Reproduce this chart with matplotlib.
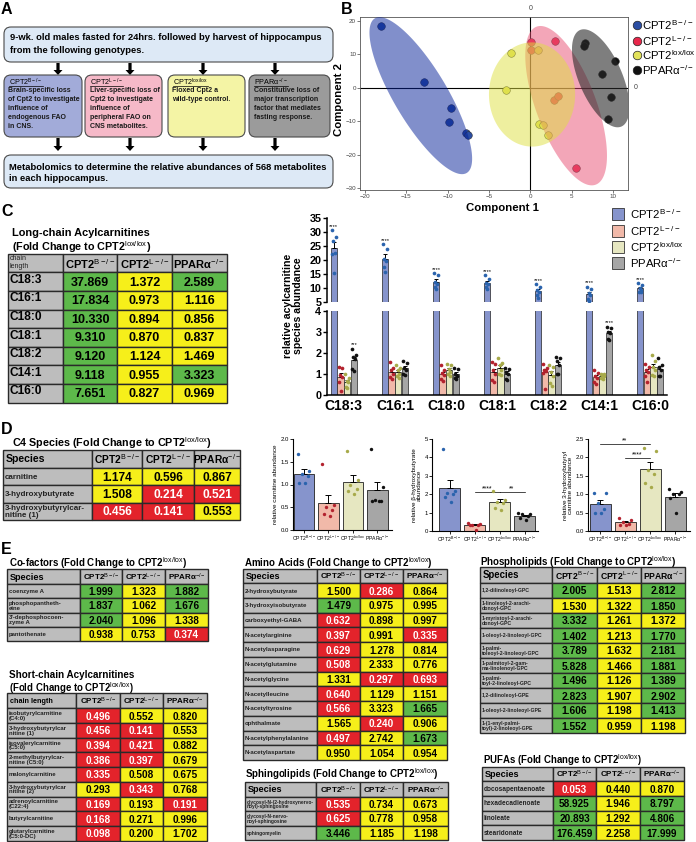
import matplotlib

matplotlib.use("Agg")

import matplotlib.pyplot as plt
import matplotlib.transforms as mtrans
import numpy as np
from matplotlib.patches import FancyArrow, FancyBboxPatch, Polygon, Rectangle

W, H = 696, 842

plt.rcParams["font.family"] = ["Liberation Sans", "DejaVu Sans"]
plt.rcParams["mathtext.fontset"] = "custom"
plt.rcParams["mathtext.rm"] = "Liberation Sans"
plt.rcParams["mathtext.it"] = "Liberation Sans:italic"
plt.rcParams["mathtext.bf"] = "Liberation Sans:bold"

# ---------------- data ----------------
GENO_BASE = ["CPT2", "CPT2", "CPT2", "PPARα"]
GENO_SUP = ["B-/-", "L-/-", "lox/lox", "-/-"]

# panel A text
A_TOP = ["9-wk. old males fasted for 24hrs. followed by harvest of hippocampus",
         "from the following genotypes."]
A_BOXES = [["Brain-specific loss", "of Cpt2 to investigate", "influence of",
            "endogenous FAO", "in CNS."],
           ["Liver-specific loss of", "Cpt2 to investigate", "influence of",
            "peripheral FAO on", "CNS metabolites."],
           ["Floxed Cpt2 a", "wild-type control."],
           ["Constitutive loss of", "major transcription", "factor that mediates",
            "fasting response."]]
A_BOTTOM = ["Metabolomics to determine the relative abundances of 568 metabolites",
            "in each hippocampus."]

# panel B, sPLS-DA component scores
PCA_X = [[-18.1, -12.9, -9.6, -9.8, -7.8, -7.5],
         [0.1, 3.0, 5.5, 0.1, 2.8, 3.3],
         [-2.3, -3.0, 0.9, 1.1, 1.5, 2.1],
         [6.6, 6.5, 10.2, 8.6, 9.8, 9.4]]
PCA_Y = [[18.6, 1.6, -5.9, -10.3, -13.4, -14.1],
         [13.8, 14.0, -24.0, 11.4, -3.6, -2.4],
         [10.4, -0.8, 11.4, -10.8, -11.1, -14.0],
         [13.5, 12.6, 7.9, 4.2, -2.9, -9.3]]

# panel C, long-chain acylcarnitines (per-animal relative abundance)
LC_SPECIES = ["C18:3", "C16:1", "C18:0", "C18:1", "C18:2", "C14:1", "C16:0"]
LC_B = [[30.6, 28.3, 26.7, 22.6, 22.1, 15.3],
        [25.6, 24.0, 20.5, 19.5, 17.5, 15.7],
        [15.4, 14.6, 12.2, 11.5, 10.3, 9.6],
        [14.6, 13.2, 12.0, 11.5, 10.5, 9.8],
        [11.4, 10.4, 9.5, 8.5, 7.5, 6.5],
        [10.6, 9.8, 8.2, 7.5, 6.3, 5.6],
        [11.8, 11.0, 10.0, 9.5, 8.8, 8.5]]
LC_L = [[1.31, 1.30, 0.95, 0.85, 0.60, 0.21],
        [1.55, 1.30, 1.20, 1.00, 0.85, 0.75],
        [1.40, 1.20, 1.05, 0.95, 0.75, 0.65],
        [1.55, 1.45, 1.20, 1.00, 0.70, 0.60],
        [1.45, 1.30, 1.20, 1.15, 1.05, 0.30],
        [1.20, 1.05, 0.90, 0.80, 0.60, 0.50],
        [1.45, 1.35, 1.20, 1.10, 0.90, 0.60]]
LC_LOX = [[1.00, 0.80, 0.65, 0.60, 0.40, 0.35],
          [1.40, 1.30, 1.20, 1.00, 0.90, 0.80],
          [1.45, 1.40, 1.25, 1.10, 1.00, 0.90],
          [1.75, 1.50, 1.40, 1.20, 1.00, 0.95],
          [1.40, 1.35, 1.10, 0.90, 0.55, 0.45],
          [1.00, 1.00, 0.95, 0.90, 0.80, 0.75],
          [1.90, 1.60, 1.35, 1.20, 0.95, 0.90]]
LC_PPAR = [[2.18, 1.90, 1.80, 1.70, 1.25, 1.15],
           [1.60, 1.50, 1.30, 1.20, 1.00, 0.95],
           [1.30, 1.25, 1.00, 0.90, 0.80, 0.75],
           [1.30, 1.25, 1.10, 1.00, 0.75, 0.70],
           [1.80, 1.75, 1.60, 1.40, 1.00, 0.98],
           [3.25, 3.20, 3.00, 2.95, 2.65, 2.60],
           [1.75, 1.40, 1.35, 1.20, 0.90, 0.90]]
LC_STARS_B = ["****"] * 7
LC_STARS_PPAR = ["***", "", "", "", "", "****", ""]

# panel D, C4 species per animal
CARN = [[1.66, 1.30, 1.22, 1.18, 1.03, 1.03],
        [1.44, 0.55, 0.50, 0.45, 0.35, 0.30],
        [1.74, 1.10, 1.00, 0.90, 0.85, 0.80],
        [1.78, 0.95, 0.65, 0.63, 0.63, 0.63]]
BHB = [[4.45, 2.20, 2.05, 2.00, 1.85, 1.55],
       [0.45, 0.40, 0.35, 0.35, 0.30, 0.05],
       [2.20, 1.70, 1.60, 1.50, 1.25, 1.15],
       [1.00, 0.95, 0.90, 0.80, 0.70, 0.60]]
HBC = [[1.03, 1.03, 0.75, 0.60, 0.50, 0.50],
       [0.35, 0.30, 0.25, 0.20, 0.17, 0.15],
       [2.25, 2.18, 1.65, 1.55, 1.30, 1.20],
       [1.15, 1.05, 1.00, 1.00, 0.90, 0.50]]
BHB_SIG = [(1, 2, 2.12, "****"), (2, 3, 2.12, "**")]
HBC_SIG = [(0, 2, 2.36, "**"), (1, 2, 1.98, "****")]

# fold-change tables: names, values, significance (u = up, d = down, n = ns)
LCT_NAMES = LC_SPECIES
LCT_VALS = [[37.869, 1.372, 2.589], [17.834, 0.973, 1.116], [10.330, 0.894, 0.856],
            [9.310, 0.870, 0.837], [9.120, 1.124, 1.469], [9.118, 0.955, 3.323],
            [7.651, 0.827, 0.969]]
LCT_SIG = ["unu", "unn", "unn", "unn", "unn", "unu", "unn"]

C4_NAMES = ["carnitine", "3-hydroxybutyrate", "3-hydroxybutyrylcar-\nnitine (1)"]
C4_VALS = [[1.174, 0.596, 0.867], [1.508, 0.214, 0.521], [0.456, 0.141, 0.553]]
C4_SIG = ["nnn", "ndd", "ddn"]

COF_NAMES = ["coenzyme A", "phosphopantheth-\neine", "3'-dephosphocoen-\nzyme A",
             "pantothenate"]
COF_VALS = [[1.999, 1.323, 1.882], [1.837, 1.062, 1.676], [2.040, 1.096, 1.338],
            [0.938, 0.753, 0.374]]
COF_SIG = ["unu", "unu", "unn", "nnd"]

SC_NAMES = ["isobutyrylcarnitine\n(C4:0)", "3-hydroxybutyrylcar\nnitine (1)",
            "isovalerylcarnitine\n(C5:0)", "2-methylbutyrylcar-\nnitine (C5:0)",
            "malonylcarnitine", "3-hydroxybutyrylcar\nnitine (2)",
            "adrenoylcarnitine\n(C22:4)", "butyrylcarnitine",
            "glutarylcarnitine\n(C5:0-DC)"]
SC_VALS = [[0.496, 0.552, 0.820], [0.456, 0.141, 0.553], [0.394, 0.421, 0.882],
           [0.386, 0.397, 0.679], [0.335, 0.508, 0.675], [0.293, 0.343, 0.768],
           [0.169, 0.193, 0.191], [0.168, 0.271, 0.996], [0.098, 0.200, 1.702]]
SC_SIG = ["dnn", "ddn", "ddn", "ddn", "dnn", "ndn", "dnd", "dnn", "dnn"]

AA_NAMES = ["2-hydroxybutyrate", "3-hydroxyisobutyrate", "carboxyethyl-GABA",
            "N-acetylarginine", "N-acetylasparagine", "N-acetylglutamine",
            "N-acetylglycine", "N-acetylleucine", "N-acetyltyrosine", "ophthalmate",
            "N-acetylphenylalanine", "N-acetylaspartate"]
AA_VALS = [[1.500, 0.286, 0.864], [1.479, 0.975, 0.995], [0.632, 0.898, 0.997],
           [0.397, 0.991, 0.335], [0.629, 1.278, 0.814], [0.508, 2.333, 0.776],
           [1.331, 0.297, 0.693], [0.640, 1.129, 1.151], [0.566, 3.323, 1.665],
           [1.565, 0.240, 0.906], [0.497, 2.742, 1.673], [0.950, 1.054, 0.954]]
AA_SIG = ["ndn", "unn", "dnn", "dnd", "dnn", "dnn", "ndd", "dnn", "dnu", "ndn",
          "dnu", "nnn"]

SPH_NAMES = ["glycosyl-N-(2-hydroxynervo-\nnoyl)-sphingosine",
             "glycosyl-N-nervo-\nnoyl-sphingosine", "sphingomyelin"]
SPH_VALS = [[0.535, 0.734, 0.673], [0.625, 0.778, 0.958], [3.446, 1.185, 1.198]]
SPH_SIG = ["dnn", "dnn", "unn"]

PL_NAMES = ["1,2-dilinoleoyl-GPC", "1-linoleoyl-2-arachi-\ndonoyl-GPC",
            "1-myristoyl-2-arachi-\ndonoyl-GPC", "1-oleoyl-2-linoleoyl-GPC",
            "1-palmi-\ntoleoyl-2-linoleoyl-GPC", "1-palmitoyl-2-gam-\nma-linolenoyl-GPC",
            "1-palmi-\ntoyl-2-linoleoyl-GPC", "1,2-dilinoleoyl-GPE",
            "1-oleoyl-2-linoleoyl-GPE", "1-(1-enyl-palmi-\ntoyl)-2-linoleoyl-GPE"]
PL_VALS = [[2.005, 1.513, 2.812], [1.530, 1.322, 1.850], [3.332, 1.261, 1.372],
           [1.402, 1.213, 1.770], [3.789, 1.632, 2.181], [5.828, 1.466, 1.881],
           [1.496, 1.126, 1.389], [2.823, 1.907, 2.902], [1.606, 1.198, 1.413],
           [1.552, 0.959, 1.198]]
PL_SIG = ["unu", "nnu", "unn", "unu", "unu", "unu", "unu", "unu", "unu", "unn"]

PUFA_NAMES = ["docosapentaenoate", "hexadecadienoate", "linoleate", "stearidonate"]
PUFA_VALS = [[0.053, 0.440, 0.870], [58.925, 1.946, 8.797], [20.893, 1.292, 4.806],
             [176.459, 2.258, 17.999]]
PUFA_SIG = ["dnn", "unu", "unu", "unu"]

# ---------------- style ----------------
GRAY = "#bdbdbd"
EDGE = "#2a2a2a"
CELL = {"u": "#5db94a", "n": "#f6ef1a", "d": "#e3232b"}
BAR_C = ["#8694cc", "#f1b9a9", "#e6e7c1", "#a6a6a6"]
DOT_C = ["#2a63ad", "#b3222e", "#a7aa4a", "#111111"]
PCA_C = ["#2b4ea3", "#e8274b", "#e2e25a", "#111111"]
ELL_C = [(0.02, 0.13, 0.60), (0.91, 0.31, 0.45), (0.87, 0.88, 0.25), (0.16, 0.16, 0.16)]
ELL_A = [0.5, 0.5, 0.5, 0.6]

fig = plt.figure(figsize=(W / 100, H / 100), dpi=100)
cv = fig.add_axes([0, 0, 1, 1])
cv.set_xlim(0, W)
cv.set_ylim(H, 0)
cv.axis("off")
REND = fig.canvas.get_renderer()


def lab(i):
    return GENO_BASE[i] + r"$^{\mathrm{" + GENO_SUP[i] + "}}$"


def fit(t, width):
    w = t.get_window_extent(REND).width
    t.set_fontsize(t.get_fontsize() * width / w)
    return t


def px_axes(x0, y0, x1, y1):
    ax = fig.add_axes([x0 / W, 1 - y1 / H, (x1 - x0) / W, (y1 - y0) / H])
    ax.patch.set_visible(False)
    return ax


def title(x, y, text, width):
    t = cv.text(x, y, text, fontsize=8, fontweight="bold", va="center", ha="left")
    fit(t, width)


def table(xe, y0, hh, rh, head0, names, vals, sig, name_fs, val_fs, head_fs, col_fs,
          name_top=False, head_top=False):
    n = len(names)
    lw = 1.0
    for j in range(4):
        cv.add_patch(Rectangle((xe[j], y0), xe[j + 1] - xe[j], hh, fc=GRAY, ec=EDGE, lw=lw))
    if head_top:
        cv.text(xe[0] + 2, y0 + 1.5, head0, fontsize=head_fs, va="top", ha="left",
                linespacing=1.0, color="#222")
    else:
        cv.text(xe[0] + 3, y0 + hh / 2 + 0.5, head0, fontsize=head_fs, fontweight="bold",
                va="center", ha="left")
    for k in range(3):
        cv.text((xe[k + 1] + xe[k + 2]) / 2, y0 + hh / 2 + 0.5, lab(k if k < 2 else 3),
                fontsize=col_fs, fontweight="bold", va="center", ha="center")
    for i in range(n):
        ya = y0 + hh + rh * i
        cv.add_patch(Rectangle((xe[0], ya), xe[1] - xe[0], rh, fc=GRAY, ec=EDGE, lw=lw))
        if name_top:
            cv.text(xe[0] + 2, ya + 1.5, names[i], fontsize=name_fs, fontweight="bold",
                    va="top", ha="left")
        else:
            cv.text(xe[0] + 2, ya + rh / 2 + 0.4, names[i], fontsize=name_fs,
                    fontweight="bold", va="center", ha="left", linespacing=0.95,
                    color="#222")
        for j in range(3):
            s = sig[i][j]
            cv.add_patch(Rectangle((xe[j + 1], ya), xe[j + 2] - xe[j + 1], rh,
                                   fc=CELL[s], ec=EDGE, lw=lw))
            cv.text((xe[j + 1] + xe[j + 2]) / 2, ya + rh / 2 + 1.0, f"{vals[i][j]:.3f}",
                    fontsize=val_fs, fontweight="bold", va="center", ha="center",
                    color="white" if s == "d" else "black")


# ---------------- panel letters ----------------
for letter, (x, y) in zip("ABCDE", [(1, 10), (341, 9), (1, 211), (1, 430), (1, 550)]):
    cv.text(x, y, letter, fontsize=11.5, fontweight="bold", va="center", ha="left")

# ---------------- panel A ----------------
def rbox(x, y, w, h, fc):
    cv.add_patch(FancyBboxPatch((x, y), w, h, boxstyle="round,pad=0,rounding_size=7",
                                fc=fc, ec="#4a4a4a", lw=0.8))


def arrow(x, y0, y1):
    cv.add_patch(FancyArrow(x, y0, 0, y1 - y0, width=3.2, head_width=9, head_length=5,
                            length_includes_head=True, color="black", lw=0))


rbox(4, 27, 329, 35, "#dde9f6")
top_fs = None
for i, line in enumerate(A_TOP):
    t = cv.text(10, 38 + 12.5 * i, line, fontsize=7, fontweight="bold", va="center")
    if i == 0:
        fit(t, 312)
        top_fs = t.get_fontsize()
    else:
        t.set_fontsize(top_fs)
A_X = [4, 85, 168, 249]
A_W = [78, 77, 77, 81]
A_FC = ["#a2abd9", "#f6b9c8", "#f4f4a5", "#9b9b9b"]
A_ARROW_X = [58, 130, 203, 275]
for k in range(4):
    arrow(A_ARROW_X[k], 63, 75)
    arrow(A_ARROW_X[k], 138, 151)
    rbox(A_X[k], 75, A_W[k], 62, A_FC[k])
    t = cv.text(A_X[k] + 5, 82, lab(k), fontsize=5.2, va="center", ha="left")
    bb = t.get_window_extent(REND)
    cv.plot([A_X[k] + 5, A_X[k] + 5 + bb.width], [86.2, 86.2], color="black", lw=0.5)
    for i, line in enumerate(A_BOXES[k]):
        cv.text(A_X[k] + 4.5, 91 + 8.9 * i, line, fontsize=5.05, fontweight="bold",
                va="center", ha="left", color="#1a1a1a")
rbox(4, 155, 329, 33, "#dde9f6")
for i, line in enumerate(A_BOTTOM):
    t = cv.text(9, 167 + 11.5 * i, line, fontsize=7, fontweight="bold", va="center")
    if i == 0:
        fit(t, 317)
        bot_fs = t.get_fontsize()
    else:
        t.set_fontsize(bot_fs)

# ---------------- panel B ----------------
axb = px_axes(360, 17, 628, 190)
axb.set_xlim(-20.6, 11.8)
axb.set_ylim(-30.6, 21.2)
for sp in axb.spines.values():
    sp.set_color("#555")
    sp.set_linewidth(0.6)
axb.set_xticks([-20, -15, -10, -5, 0, 5, 10])
axb.set_yticks([20, 10, 0, -10, -20, -30])
axb.tick_params(labelsize=4.5, colors="#444", length=2, width=0.5, pad=0.8)
axb.axhline(0, color="black", lw=0.8, zorder=1)
axb.axvline(0, color="black", lw=0.8, zorder=1)
axb.text(0, 1.03, "0", transform=axb.get_xaxis_transform(), fontsize=5, ha="center",
         va="bottom", color="#444")
axb.text(1.02, 0, "0", transform=axb.get_yaxis_transform(), fontsize=5, ha="left",
         va="center", color="#444")
kx = (268 / 32.4) / (173 / 51.8)
# (tip, tip, half-width) of each group's confidence region in score units
ELLIPSES = [((-18.8, 20.8), (-7.7, -25.5), 8.0),
            ((0.74, 18.3), (7.9, -29.0), 9.0),
            ((0.2, 13.6), (0.2, -17.6), 12.9),
            ((6.0, 17.3), (11.0, -11.6), 6.5)]
tt = np.linspace(0, 2 * np.pi, 200)
for g in range(4):
    axb.scatter(PCA_X[g], PCA_Y[g], s=30, c=PCA_C[g], edgecolors="#333", linewidths=0.4,
                zorder=2)
    (a, b, hw) = ELLIPSES[g]
    p1 = np.array([a[0] * kx, a[1]])
    p2 = np.array([b[0] * kx, b[1]])
    c = (p1 + p2) / 2
    u = (p1 - p2) / 2
    nrm = np.array([-u[1], u[0]])
    nrm = nrm / np.linalg.norm(nrm) * hw
    pts = c + np.outer(np.cos(tt), u) + np.outer(np.sin(tt), nrm)
    pts[:, 0] /= kx
    axb.add_patch(Polygon(pts, closed=True, fc=ELL_C[g], alpha=ELL_A[g], ec="none",
                          zorder=3))
cv.text(503, 208, "Component 1", fontsize=8.2, fontweight="bold", ha="center",
        va="center")
cv.text(339, 100, "Component 2", fontsize=8.2, fontweight="bold", ha="center",
        va="center", rotation=90)
for k, yy in enumerate([25, 41, 55, 70]):
    cv.scatter([637], [yy], s=38, c=PCA_C[k], edgecolors="#222", linewidths=0.5,
               zorder=5, clip_on=False)
    cv.text(642, yy, lab(k), fontsize=8.2, va="center", ha="left")

# ---------------- panel C ----------------
title(12, 233, "Long-chain Acylcarnitines", 138)
title(12, 247, "(Fold Change to " + lab(2) + ")", 140)
table([8, 63, 117, 172, 227], 254, 18.3, 18.6, "chain\nlength", LCT_NAMES, LCT_VALS,
      LCT_SIG, 8.6, 9.0, 5.0, 8.0, name_top=True, head_top=True)

ax_hi = px_axes(327, 217.7, 667, 302.3)
ax_lo = px_axes(327, 310.7, 667, 395)
groups = [LC_B, LC_L, LC_LOX, LC_PPAR]
OFF = np.array([-0.195, -0.065, 0.065, 0.195])
BW = 0.125
JIT = np.array([-0.3, 0.28, -0.1, 0.18, -0.22, 0.05]) * BW
for ax in (ax_hi, ax_lo):
    for k, data in enumerate(groups):
        arr = np.array(data)
        mean = arr.mean(axis=1)
        sem = arr.std(axis=1, ddof=1) / np.sqrt(arr.shape[1])
        xs = np.arange(len(LC_SPECIES)) + OFF[k]
        ax.bar(xs, mean, width=BW, color=BAR_C[k], edgecolor="#222", linewidth=0.5,
               zorder=1)
        ax.errorbar(xs, mean, yerr=[np.zeros_like(sem), sem], fmt="none", ecolor="black",
                    elinewidth=0.7, capsize=1.5, capthick=0.7, zorder=2)
        for i in range(len(LC_SPECIES)):
            ax.scatter(xs[i] + JIT, arr[i], s=7, c=DOT_C[k], linewidths=0, zorder=3)
    ax.set_xlim(-0.33, 6.33)
    for sp in ("top", "right"):
        ax.spines[sp].set_visible(False)
    for sp in ("left", "bottom"):
        ax.spines[sp].set_linewidth(1.1)
    ax.tick_params(labelsize=7.8, width=1.0, length=3, pad=1)
ax_hi.set_ylim(5, 35)
ax_hi.set_yticks([5, 10, 15, 20, 25, 30, 35])
ax_hi.spines["bottom"].set_visible(False)
ax_hi.set_xticks([])
ax_lo.set_ylim(0, 4)
ax_lo.set_yticks([0, 1, 2, 3, 4])
for ax in (ax_hi, ax_lo):
    for lbl in ax.get_yticklabels():
        lbl.set_fontweight("bold")
ax_lo.set_xticks(np.arange(len(LC_SPECIES)))
ax_lo.set_xticklabels(LC_SPECIES, fontsize=10, fontweight="bold")
shift = mtrans.ScaledTranslation(7 / 100, 0, fig.dpi_scale_trans)
for lbl in ax_lo.get_xticklabels():
    lbl.set_transform(lbl.get_transform() + shift)
ax_lo.tick_params(axis="x", length=0, pad=3)
for i in range(len(LC_SPECIES)):
    if LC_STARS_B[i]:
        ax_hi.text(i + OFF[0], max(LC_B[i]) + 1.3, LC_STARS_B[i], fontsize=4.2,
                   ha="center", va="center")
    if LC_STARS_PPAR[i]:
        ax_lo.text(i + OFF[3], max(LC_PPAR[i]) + 0.2, LC_STARS_PPAR[i], fontsize=4.2,
                   ha="center", va="center")
cv.text(293, 306, "relative acylcarnitine\nspecies abundance", fontsize=7.6,
        fontweight="bold", rotation=90, ha="center", va="center", linespacing=1.1)
for k, yy in enumerate([214, 231, 247, 263]):
    cv.add_patch(Rectangle((612, yy - 6), 12, 12, fc=BAR_C[k], ec="#333", lw=0.6))
    cv.text(630, yy, lab(k), fontsize=8.2, va="center", ha="left")

# ---------------- panel D ----------------
title(12, 443, "C4 Species (Fold Change to " + lab(2) + ")", 201)
table([3, 92, 142, 194, 240], 450, 18, 17.3, "Species", C4_NAMES, C4_VALS, C4_SIG,
      5.8, 8.6, 7.6, 7.4)

D_SPECS = [(CARN, (293, 439, 392, 530), 2.0, [0, 0.5, 1.0, 1.5, 2.0],
            "relative carnitine abundance", (-0.45, 3.6), []),
           (BHB, (432, 439, 538, 531), 5, [0, 1, 2, 3, 4, 5],
            "relative β-hydroxybutyrate\nabundance", (-0.7, 3.54), BHB_SIG),
           (HBC, (588, 439, 690, 531), 2.5, [0, 0.5, 1.0, 1.5, 2.0, 2.5],
            "relative 3-hydroxybutyryl\ncarnitine abundance", (-0.48, 3.6), HBC_SIG)]
for data, box, ymax, yt, ylab, xl, sigs in D_SPECS:
    ax = px_axes(*box)
    arr = np.array(data)
    mean = arr.mean(axis=1)
    sem = arr.std(axis=1, ddof=1) / np.sqrt(arr.shape[1])
    xs = np.arange(4)
    ax.bar(xs, mean, width=0.84, color=BAR_C, edgecolor="#222", linewidth=0.6, zorder=1)
    ax.errorbar(xs, mean, yerr=[np.zeros(4), sem], fmt="none", ecolor="black",
                elinewidth=0.7, capsize=2.5, capthick=0.7, zorder=2)
    jit = np.array([-0.25, 0.22, -0.1, 0.15, -0.2, 0.05])
    for k in range(4):
        ax.scatter(xs[k] + jit, arr[k], s=6, c=DOT_C[k], linewidths=0, zorder=3)
    for a, b, y, s in sigs:
        ax.plot([a, b], [y, y], color="black", lw=0.5)
        ax.text((a + b) / 2, y, s, fontsize=5, ha="center", va="bottom")
    ax.set_ylim(0, ymax)
    ax.set_xlim(*xl)
    ax.set_yticks(yt)
    ax.set_yticklabels([f"{v:g}" if ymax == 5 else f"{v:.1f}" for v in yt])
    ax.set_xticks(xs)
    ax.set_xticklabels([lab(k) for k in range(4)], fontsize=3.7)
    for sp in ("top", "right"):
        ax.spines[sp].set_visible(False)
    for sp in ("left", "bottom"):
        ax.spines[sp].set_linewidth(0.8)
    ax.tick_params(axis="y", labelsize=4.3, width=0.6, length=2, pad=1)
    ax.tick_params(axis="x", labelsize=3.7, width=0.6, length=2, pad=1)
    ax.set_ylabel(ylab, fontsize=4.6, labelpad=2, linespacing=1.0)

# ---------------- panel E ----------------
title(9, 563, "Co-factors (Fold Change to " + lab(2) + ")", 178)
table([7, 80, 122, 165, 208], 569.3, 14.7, 14.3, "Species", COF_NAMES, COF_VALS,
      COF_SIG, 4.3, 7.2, 6.6, 5.8)
title(9, 675, "Short-chain Acylcarnitines", 125)
title(9, 688, "(Fold Change to " + lab(2) + ")", 124)
table([7, 76, 120, 163, 207], 693, 15.3, 14.7, "chain length", SC_NAMES, SC_VALS,
      SC_SIG, 4.3, 7.2, 5.2, 5.8)
title(244, 563, "Amino Acids (Fold Change to " + lab(2) + ")", 188)
table([243, 317, 360, 403, 447], 569, 14.3, 14.72, "Species", AA_NAMES, AA_VALS,
      AA_SIG, 4.4, 7.2, 6.6, 5.8)
title(245, 774, "Sphingolipids (Fold Change to " + lab(2) + ")", 194)
table([245, 316, 360, 403, 448], 782, 15, 14.3, "Species", SPH_NAMES, SPH_VALS,
      SPH_SIG, 3.5, 7.2, 6.6, 5.8)
title(480, 562, "Phospholipids (Fold Change to " + lab(2) + ")", 197)
table([480, 552, 597, 641, 685], 567, 16, 15, "Species", PL_NAMES, PL_VALS, PL_SIG,
      3.7, 7.4, 6.9, 6.2)
title(483, 760, "PUFAs (Fold Change to " + lab(2) + ")", 159)
table([482, 553, 596, 640, 684], 767, 14.3, 14.7, "Species", PUFA_NAMES, PUFA_VALS,
      PUFA_SIG, 4.7, 7.2, 6.6, 5.8)

fig.savefig("out.png", dpi=100)
